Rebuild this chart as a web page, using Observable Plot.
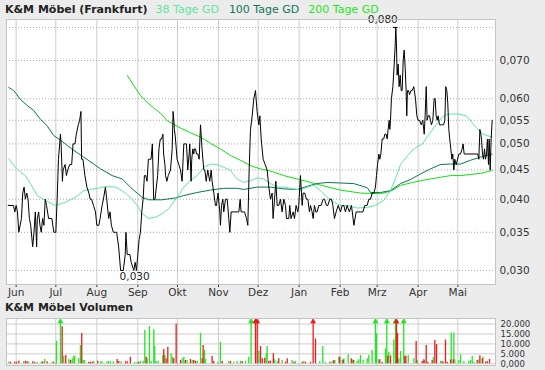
<!DOCTYPE html>
<html><head><meta charset="utf-8">
<script src="https://cdn.jsdelivr.net/npm/d3@7"></script>
<script src="https://cdn.jsdelivr.net/npm/@observablehq/plot@0.6"></script>
<style>
body{margin:0;background:#ececec;font-family:"DejaVu Sans",Verdana,sans-serif;width:545px;height:370px;overflow:hidden}
.t{height:16px;padding-left:5px;font-size:11px;line-height:19px;white-space:nowrap;overflow:visible}
.t b{color:#222}
#vtitle{line-height:16px}
svg{display:block}
</style></head><body>
<div class="t" id="title"><b>K&amp;M Möbel (Frankfurt)</b><span style="color:#5ee6a2;margin-left:8px">38 Tage GD</span><span style="color:#10775a;margin-left:10px">100 Tage GD</span><span style="color:#1aea1a;margin-left:9px">200 Tage GD</span></div>
<div id="price"></div>
<div class="t" id="vtitle"><b>K&amp;M Möbel Volumen</b></div>
<div id="vol"></div>
<script>
// days counted from 2009-06-01
const priceDay = [-6,-2,-1,0,1,2,4,5,6,7,8,9,10,11,12.5,13.5,14.5,15.5,16,17,18,19,20,21,22,23,24.5,27,28.5,30,31,32,33.5,34,35,35.5,37,38,39,40.5,42,43,44.5,45.5,47,48,49,49.5,50.5,51.5,52,53.5,55,56,57,58.5,60,61,62.5,63.5,65,66,67.5,68.5,70,71,72,73.5,75,76,77.5,79,81,82.5,83,84,86,87,89,90,91,92,93,94,95,96,97,98,99,100,101,102,103,104,105,107,108,109,110,111,111.5,112.5,113,114,115,116.7,118,118.7,119.7,120.5,121.7,123,124.3,125.5,126.8,128.8,129.8,130.8,131.3,132.3,132.8,133.6,134.3,134.8,135.6,136.4,137.4,138.4,139.4,140.6,141.9,142.7,143.7,144.9,146.4,147.5,148.2,149.5,150.7,151.5,152.7,154,154.5,155.3,156.3,157,158.3,159.6,160.8,161.6,162.6,167.1,168.4,169.4,170.1,171.7,172.7,174.2,175.2,176.2,177.2,178.5,179.7,181,182.2,183.5,184.3,185.3,186.8,188.3,189.8,191.1,192.3,193.6,194.3,195.4,196.4,197.4,198.6,199.9,201.1,202.4,203.7,204.4,206.2,206.9,207.9,209.5,210.5,211.7,213,213.7,215,215.5,216.3,217,218.3,219.5,220.6,221.8,222.6,223.8,224.6,225.6,226.6,227.6,228.9,230.6,232.2,233.2,234.7,235.7,237.2,238.5,239.5,240.7,242,243.5,245.3,246.5,247.8,249,250.3,252,253.6,255.4,257.1,258.6,260.4,262.2,263.7,265.4,266.7,268,269.2,270.5,271.7,272.5,273.3,274.3,275,275.8,276.8,278,278.8,279.8,280.6,281.3,282.1,282.6,283.1,283.8,284.9,285.9,286.6,287.1,287.6,288.1,288.9,289.6,290.4,291.2,291.9,292.7,293.4,294.2,294.9,295.4,295.9,296.7,297.5,298.5,299.5,300.7,302,303,304,305,306.3,307.5,308.6,309.3,310.1,310.8,311.6,312.6,313.3,314.1,315.1,316.1,316.9,317.6,318.4,319.1,320.1,321.7,323.2,324.2,324.9,325.7,326.4,327.2,327.9,328.7,329.5,330.2,331,331.7,332.8,333.8,334.8,336,337.3,338,338.8,349.1,349.9,350.7,351.4,351.9,352.7,353.4,354.2,354.9,355.7,356.4,357.2,357.7,358.5,359.2,360];
const priceValue = [0.039,0.039,0.038,0.039,0.038,0.035,0.037,0.041,0.042,0.040,0.041,0.040,0.037,0.036,0.033,0.035,0.038,0.033,0.037,0.038,0.036,0.035,0.037,0.036,0.040,0.039,0.037,0.037,0.035,0.035,0.040,0.047,0.052,0.050,0.043,0.045,0.046,0.044,0.045,0.046,0.046,0.050,0.050,0.052,0.054,0.055,0.057,0.047,0.047,0.045,0.044,0.042,0.041,0.040,0.040,0.039,0.038,0.036,0.036,0.037,0.039,0.040,0.042,0.040,0.037,0.038,0.036,0.035,0.035,0.035,0.033,0.030,0.030,0.032,0.035,0.032,0.032,0.031,0.030,0.031,0.030,0.032,0.034,0.035,0.038,0.040,0.044,0.044,0.043,0.047,0.047,0.047,0.050,0.040,0.040,0.044,0.049,0.051,0.051,0.052,0.048,0.046,0.044,0.043,0.044,0.045,0.049,0.057,0.053,0.051,0.047,0.046,0.045,0.043,0.050,0.050,0.045,0.048,0.050,0.043,0.047,0.049,0.048,0.049,0.049,0.048,0.048,0.047,0.054,0.049,0.045,0.045,0.043,0.045,0.043,0.045,0.043,0.041,0.039,0.039,0.041,0.038,0.036,0.039,0.040,0.038,0.040,0.040,0.037,0.035,0.038,0.038,0.038,0.040,0.038,0.038,0.038,0.037,0.036,0.045,0.053,0.056,0.060,0.062,0.057,0.054,0.056,0.051,0.047,0.046,0.045,0.042,0.040,0.041,0.037,0.040,0.043,0.039,0.039,0.040,0.038,0.040,0.039,0.037,0.037,0.039,0.037,0.038,0.037,0.039,0.038,0.039,0.044,0.042,0.039,0.041,0.041,0.040,0.040,0.038,0.039,0.038,0.037,0.039,0.038,0.038,0.039,0.039,0.040,0.040,0.039,0.039,0.040,0.040,0.039,0.037,0.038,0.039,0.038,0.039,0.039,0.038,0.039,0.038,0.039,0.036,0.038,0.038,0.038,0.038,0.039,0.039,0.040,0.040,0.041,0.041,0.042,0.044,0.046,0.048,0.047,0.048,0.051,0.051,0.052,0.052,0.051,0.053,0.055,0.053,0.055,0.060,0.063,0.069,0.074,0.080,0.075,0.066,0.069,0.063,0.066,0.062,0.062,0.070,0.073,0.068,0.062,0.056,0.062,0.062,0.061,0.062,0.062,0.063,0.060,0.056,0.055,0.055,0.054,0.055,0.052,0.056,0.063,0.055,0.056,0.056,0.055,0.054,0.055,0.060,0.060,0.056,0.055,0.056,0.054,0.054,0.054,0.055,0.063,0.062,0.059,0.053,0.051,0.049,0.047,0.048,0.045,0.047,0.046,0.047,0.048,0.048,0.049,0.050,0.048,0.048,0.047,0.053,0.052,0.051,0.048,0.047,0.049,0.047,0.048,0.051,0.046,0.051,0.045,0.051,0.055];

const ma38Day = [-5.6,-0.5,3.3,7,10.8,15.9,22.2,29.7,37.3,44.8,51.1,56.2,62.2,67.5,75.1,80.2,86.4,91.5,95.3,100.3,105.4,110.4,115.4,121.8,126.8,131.8,136.9,141.9,147,152,157,162.1,167.1,172.1,177.2,182.3,187.3,192.3,197.4,202.4,210,215,220.1,225.1,230.1,235.2,240.2,245.3,250.3,257.9,265.5,271.7,278,283.1,286.9,290.7,296,301.3,307.1,312,317.1,322.2,326,328.5,334.8,341.1,344.9,348.7,352.5,356.2,360];
const ma38Value = [0.0471,0.0455,0.0446,0.0440,0.0426,0.0406,0.0398,0.0390,0.0395,0.0403,0.0414,0.0416,0.0418,0.0421,0.0420,0.0414,0.0403,0.0390,0.0377,0.0370,0.0372,0.0377,0.0385,0.0403,0.0420,0.0431,0.0440,0.0455,0.0461,0.0460,0.0455,0.0449,0.0434,0.0428,0.0431,0.0436,0.0434,0.0426,0.0420,0.0420,0.0417,0.0415,0.0420,0.0423,0.0414,0.0403,0.0395,0.0390,0.0390,0.0386,0.0387,0.0390,0.0398,0.0414,0.0435,0.0460,0.0477,0.0491,0.0500,0.0519,0.0538,0.0557,0.0563,0.0564,0.0564,0.0559,0.0544,0.0532,0.0521,0.0517,0.0514];

const ma100Day = [-5.6,-1.8,3.3,8.3,13.3,18.4,23.4,28.4,33.5,38.6,43.6,51.1,58.7,63.8,72.6,80.2,87.7,95.3,100.3,110.4,120.5,126.8,136.9,147,157,167.1,172.1,182.3,192.3,202.4,212.5,222.6,227.6,235.2,245.3,255.3,265.5,268,275.5,283.1,290.7,298.2,305.8,313.3,320.9,328.5,336.1,343.6,351.2,360];
const ma100Value = [0.0628,0.0620,0.0598,0.0584,0.0572,0.0552,0.0538,0.0517,0.0508,0.0497,0.0487,0.0474,0.0461,0.0452,0.0440,0.0434,0.0417,0.0403,0.0399,0.0399,0.0402,0.0406,0.0411,0.0415,0.0418,0.0418,0.0416,0.0420,0.0420,0.0417,0.0416,0.0423,0.0426,0.0428,0.0427,0.0426,0.0419,0.0411,0.0411,0.0414,0.0426,0.0433,0.0443,0.0452,0.0460,0.0461,0.0461,0.0468,0.0474,0.0480];

const ma200Day = [84,88.9,94,99.1,104.1,109.1,114.2,119.2,124.3,131.8,139.4,147,154.5,162.1,169.6,177.2,184.8,192.3,202.4,212.5,222.6,232.6,245.3,260.4,275.5,283.1,290.7,298.2,305.8,313.3,320.9,328.5,336.1,343.6,351.2,360];
const ma200Value = [0.0659,0.0633,0.0608,0.0591,0.0578,0.0566,0.0549,0.0541,0.0533,0.0523,0.0514,0.0501,0.0490,0.0477,0.0468,0.0458,0.0452,0.0448,0.0440,0.0434,0.0428,0.0422,0.0415,0.0410,0.0409,0.0413,0.0423,0.0427,0.0431,0.0434,0.0437,0.0440,0.0440,0.0442,0.0444,0.0449];

const volDay = [-5.6,-4.3,-1.1,0.2,2,5.7,7,8.3,9.5,12.6,14.1,15.9,18.9,20.1,21.6,23.4,27.2,28.4,30.5,33.5,34.8,36,37.5,39.8,41.1,42.4,43.6,44.3,47.3,48.6,49.6,50.7,51.9,54.9,56.2,57.5,58.7,61.7,63.8,65,68.8,70,71.3,73.4,76.4,77.6,79.4,82.7,84,86.4,89.7,91.5,92.7,94,96.1,97.3,98.3,99.1,100.8,102.1,104.1,104.8,105.9,107.4,110.9,111.6,112.4,113.4,114.7,117.2,118.4,119.2,121,124.3,125.5,126.8,128,129.3,131.8,133.1,134.3,135.6,136.9,139.4,140.7,141.4,142.4,143.2,148.2,149.4,152.5,154.5,155.8,160.8,162.1,164.6,167.1,169.6,170.9,173.4,175.9,177.7,181,182.3,183.5,184.8,186.1,188,189.1,189.8,191.1,192.3,194.5,195.5,197.4,198.6,201.2,203.7,205,208.7,210,211.2,216.3,217.5,218.8,222.6,224.6,226.4,229.6,231.9,233.9,237.2,239,240.2,241,244,244.7,246.6,247.3,247.8,251.1,253.4,254.4,255.3,257.9,259.1,260.4,262.4,265.5,266.7,269.2,271.7,272.5,274.2,275,276.8,279.3,280.3,281,281.8,283.1,285.6,286.9,287.6,288.4,289.4,290.7,293.1,293.9,294.7,296.5,300.8,302.5,303.3,307.1,308.3,308.8,310.1,311.3,314.6,315.4,316.6,317.9,320.9,322.2,323.4,324.7,326,328.5,329,330.5,331,331.7,334.8,336.1,338.6,342.3,343.6,344.9,346.2,348.7,350,350.7,352.5,353,355,356.2,358];
const volValue = [800,800,800,800,1300,1200,1200,1000,800,1000,800,800,800,1000,2200,1000,800,800,11300,25000,18700,3700,4200,2200,1700,2500,3800,3800,2500,9200,15300,1700,1700,800,800,800,1200,1300,1000,1000,1000,1000,1000,1000,2200,1200,1000,1000,1000,3300,800,800,800,1200,1300,16700,3300,2500,18800,1200,17200,8800,1200,1200,4200,7200,4200,2500,8300,5000,3300,2500,20000,1700,2500,3300,1700,1700,2200,1700,1700,1300,1300,15300,2500,9200,6700,2200,3700,1200,800,10800,1200,1300,1200,800,1200,1300,1200,1300,3300,25000,25000,25000,6200,8700,2500,2800,5000,8700,1300,1300,5000,2000,1200,2500,1700,800,2500,1700,800,1200,800,1200,800,800,25000,12500,1200,8700,800,800,1200,1700,1700,3300,3300,2000,1700,2500,4500,2500,2000,1700,1200,2000,4200,1700,2500,4200,6700,25000,15000,2000,2000,800,7500,25000,3800,5800,4000,12000,25000,25000,15300,2500,6200,25000,3800,3800,4200,2500,11200,1700,1200,2000,1700,9200,800,1700,3000,11700,9700,1300,1200,800,12000,800,2000,15500,2000,15500,2000,1700,4500,1200,1200,1700,3700,800,1700,2000,4000,2500,3300,800,1200,2200];
const volUp = [1,0,0,0,0,1,0,0,1,0,0,1,1,0,1,0,1,0,1,1,0,1,0,1,0,1,1,1,1,1,0,1,1,0,0,0,1,0,1,1,1,1,1,1,0,0,1,0,0,0,1,1,0,1,1,1,0,1,1,1,1,1,1,1,1,0,1,0,0,1,1,0,0,0,1,1,0,1,0,1,0,0,1,1,0,0,1,1,0,0,1,1,0,1,0,1,1,1,0,1,1,1,0,0,1,0,0,0,1,1,0,0,0,1,1,0,1,0,0,1,0,1,0,1,0,0,0,0,1,1,1,0,1,0,1,1,0,1,0,1,1,0,1,0,1,1,1,1,1,1,1,1,1,1,0,0,1,1,0,1,0,1,1,0,0,1,1,1,0,0,1,1,0,1,0,0,1,0,0,0,1,0,0,1,0,1,0,0,0,1,0,1,1,1,1,1,1,1,1,1,0,1,0,0,1,0,0];

const monthTicks = ["2009-06-01","2009-07-01","2009-08-01","2009-09-01","2009-10-01","2009-11-01","2009-12-01","2010-01-01","2010-02-01","2010-03-01","2010-04-01","2010-05-01"];
const monthNames = ["Jan","Feb","Mrz","Apr","Mai","Jun","Jul","Aug","Sep","Okt","Nov","Dez"];
const priceTicks = [0.030,0.035,0.040,0.045,0.050,0.055,0.060,0.070];
const priceGrid = [0.030,0.035,0.040,0.045,0.050,0.055,0.060,0.070,0.080];
const volTicks = [0,5000,10000,15000,20000];

const base = Date.UTC(2009,5,1), DAY = 864e5;
const toDate = d => new Date(base + d*DAY);
const series = (days, vals) => days.map((d,i)=>({date: toDate(d), v: vals[i]}));
const price = series(priceDay, priceValue);
const ma38 = series(ma38Day, ma38Value);
const ma100 = series(ma100Day, ma100Value);
const ma200 = series(ma200Day, ma200Value);
const months = monthTicks.map(s => new Date(s + "T00:00:00Z"));
const xDomain = [toDate(-7.3), toDate(362.5)];
const comma = v => v.toFixed(3).replace(".", ",");

const maxP = price.reduce((a,b)=> b.v>a.v?b:a);
const minP = price.reduce((a,b)=> b.v<a.v?b:a);

const style = {fontFamily:"DejaVu Sans, sans-serif", fontSize:"10.5px", background:"transparent", color:"#333", overflow:"visible"};

const pricePlot = Plot.plot({
  width:545, height:284, marginTop:3, marginBottom:16, marginLeft:6, marginRight:50,
  style,
  x:{type:"utc", domain:xDomain, ticks:months, tickFormat:d=>monthNames[d.getUTCMonth()], tickSize:3, tickPadding:1, label:null},
  y:{type:"log", domain:[0.02835,0.0826], axis:"right", ticks:priceTicks, tickFormat:comma, tickSize:0, tickPadding:4, label:null},
  marks:[
    Plot.frame({fill:"white", stroke:"none"}),
    Plot.ruleX(months, {stroke:"#cccccc", strokeWidth:1}),
    Plot.ruleY(priceGrid, {stroke:"#a8a8a8", strokeDasharray:"1,2", strokeWidth:1}),
    Plot.line(ma200, {x:"date", y:"v", stroke:"#11e011", strokeWidth:1}),
    Plot.line(ma100, {x:"date", y:"v", stroke:"#0b7556", strokeWidth:1}),
    Plot.line(ma38, {x:"date", y:"v", stroke:"#5ee6a2", strokeWidth:1}),
    Plot.line(price, {x:"date", y:"v", stroke:"black", strokeWidth:1}),
    Plot.ruleY([maxP], {y:"v", x1:d=>new Date(+d.date-1.8*DAY), x2:d=>new Date(+d.date+1.8*DAY), stroke:"black"}),
    Plot.text([maxP], {x:"date", y:"v", text:d=>comma(d.v), textAnchor:"end", dx:2, dy:-4, lineAnchor:"bottom", fill:"#222"}),
    Plot.text([minP], {x:"date", y:"v", text:d=>comma(d.v), textAnchor:"start", dx:-1, dy:2, lineAnchor:"top", fill:"#222"}),
    Plot.frame({stroke:"#c4c4c4"})
  ]
});
document.getElementById("price").appendChild(pricePlot);

const vol = volDay.map((d,i)=>({date: toDate(d), v: volValue[i], up: volUp[i]===1}));
const CAP = 21800;
const volPlot = Plot.plot({
  width:545, height:54, marginTop:2, marginBottom:5, marginLeft:6, marginRight:50,
  style:{...style, fontSize:"8.5px"},
  x:{type:"utc", domain:xDomain, axis:null},
  y:{domain:[-850,22800], axis:"right", ticks:volTicks, tickFormat:d=> d===0 ? "0,000" : (d/1000).toFixed(3), tickSize:0, tickPadding:5, label:null},
  marks:[
    Plot.frame({fill:"white", stroke:"none"}),
    Plot.ruleX(months, {stroke:"#cccccc"}),
    Plot.ruleY(volTicks, {stroke:"#cccccc"}),
    Plot.ruleX(vol.filter(d=>d.up), {x:"date", y1:0, y2:d=>Math.min(d.v, CAP), stroke:"#22e622", strokeWidth:1.3}),
    Plot.ruleX(vol.filter(d=>!d.up), {x:"date", y1:0, y2:d=>Math.min(d.v, CAP), stroke:"#ee1a1a", strokeWidth:1.3}),
    Plot.dot(vol.filter(d=>d.v>CAP && d.up), {x:"date", y:21300, symbol:"triangle", r:2.2, fill:"#22e622", stroke:"none"}),
    Plot.dot(vol.filter(d=>d.v>CAP && !d.up), {x:"date", y:21300, symbol:"triangle", r:2.2, fill:"#ee1a1a", stroke:"none"}),
    Plot.frame({stroke:"#c4c4c4"})
  ]
});
document.getElementById("vol").appendChild(volPlot);
</script>
</body></html>
